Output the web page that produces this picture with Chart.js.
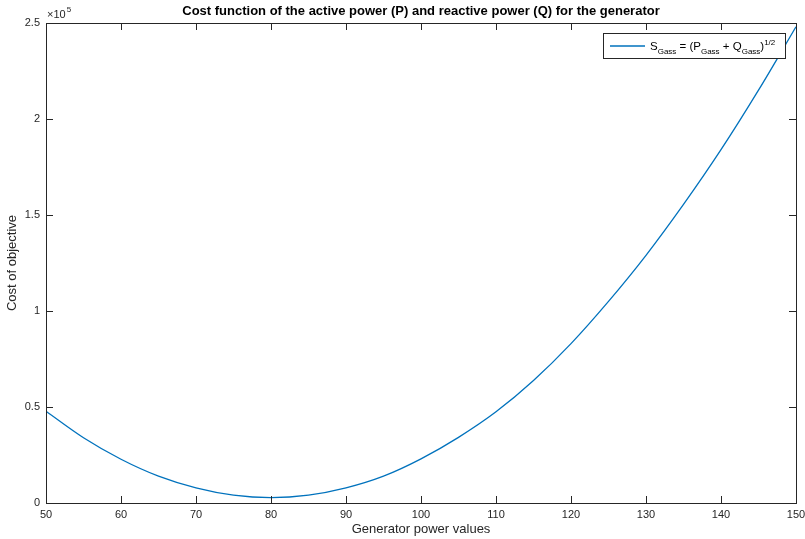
<!DOCTYPE html>
<html>
<head>
<meta charset="utf-8">
<script src="https://cdn.jsdelivr.net/npm/chart.js@4"></script>
<style>
    html, body { margin: 0; padding: 0; background: #fff; }
    #wrap { width: 805px; height: 539px; }
</style>
</head>
<body>
<div id="wrap"><canvas id="myChart" width="805" height="539"></canvas></div>
<script>
// values
const powerValues = [50, 55, 60, 65, 70, 75, 80, 85, 90, 95, 100, 105, 110, 115, 120, 125, 130, 135, 140, 145, 150];
const costValues = [47800, 34000, 22800, 14000, 7900, 4100, 2800, 4100, 7900, 14000, 23000,
                    34200, 47500, 63800, 83000, 105000, 129000, 155500, 184000, 215000, 248000];
const xTicks = { min: 50, max: 150, step: 10 };
const yTicks = { min: 0, max: 250000, step: 50000 };
const yExponent = 5;

const chartTitle = "Cost function of the active power (P) and reactive power (Q) for the generator";
const xLabel = "Generator power values";
const yLabel = "Cost of objective";
// legend label pieces: text, is it sub/sup script
const legendPieces = [["S", ""], ["Gass", "sub"], [" = (P", ""], ["Gass", "sub"], [" + Q", ""],
                      ["Gass", "sub"], [")", ""], ["1/2", "sup"]];

const axisColor = "#262626";
const lineColor = "#0072BD";
const fontFamily = '"Liberation Sans", Arial, Helvetica, sans-serif';

// MATLAB-like box, inward ticks, title, exponent and legend
const matlabAxes = {
    id: "matlabAxes",
    afterDraw(chart) {
        const ctx = chart.ctx;
        const a = chart.chartArea;
        const xs = chart.scales.x;
        const ys = chart.scales.y;
        const tick = 7;
        ctx.save();
        ctx.strokeStyle = axisColor;
        ctx.lineWidth = 1;
        ctx.strokeRect(Math.round(a.left) + 0.5, Math.round(a.top) + 0.5,
                       Math.round(a.width), Math.round(a.height));
        ctx.beginPath();
        xs.ticks.forEach((t) => {
            let px = Math.round(xs.getPixelForValue(t.value)) + 0.5;
            ctx.moveTo(px, a.bottom); ctx.lineTo(px, a.bottom - tick);
            ctx.moveTo(px, a.top); ctx.lineTo(px, a.top + tick);
        });
        ys.ticks.forEach((t) => {
            let py = Math.round(ys.getPixelForValue(t.value)) + 0.5;
            ctx.moveTo(a.left, py); ctx.lineTo(a.left + tick, py);
            ctx.moveTo(a.right, py); ctx.lineTo(a.right - tick, py);
        });
        ctx.stroke();

        // title
        ctx.fillStyle = "#000";
        ctx.font = "bold 13px " + fontFamily;
        ctx.textAlign = "center";
        ctx.textBaseline = "alphabetic";
        ctx.fillText(chartTitle, (a.left + a.right) / 2, a.top - 8);

        // exponent label
        ctx.fillStyle = axisColor;
        ctx.textAlign = "left";
        ctx.font = "11px " + fontFamily;
        ctx.fillText("\u00d710", a.left + 1, a.top - 5);
        let w = ctx.measureText("\u00d710").width;
        ctx.font = "8px " + fontFamily;
        ctx.fillText(String(yExponent), a.left + 2 + w, a.top - 11);

        // legend
        const bx = a.right - 193, by = a.top + 10, bw = 182, bh = 25;
        ctx.fillStyle = "#fff";
        ctx.fillRect(bx, by, bw, bh);
        ctx.strokeStyle = axisColor;
        ctx.strokeRect(bx + 0.5, by + 0.5, bw, bh);
        ctx.strokeStyle = lineColor;
        ctx.lineWidth = 1.3;
        ctx.beginPath();
        ctx.moveTo(bx + 7, by + 13);
        ctx.lineTo(bx + 42, by + 13);
        ctx.stroke();
        let tx = bx + 47;
        const base = by + 17;
        ctx.fillStyle = "#000";
        legendPieces.forEach(([txt, kind]) => {
            if (kind === "sub") {
                ctx.font = "8px " + fontFamily;
                ctx.fillText(txt, tx, base + 3.5);
            } else if (kind === "sup") {
                ctx.font = "8px " + fontFamily;
                ctx.fillText(txt, tx, base - 5);
            } else {
                ctx.font = "11.5px " + fontFamily;
                ctx.fillText(txt, tx, base);
            }
            tx += ctx.measureText(txt).width;
        });
        ctx.restore();
    }
};

const points = powerValues.map((p, i) => ({ x: p, y: costValues[i] }));

new Chart(document.getElementById("myChart"), {
    type: "line",
    data: {
        datasets: [{
            data: points,
            borderColor: lineColor,
            borderWidth: 1.3,
            pointRadius: 0,
            fill: false,
            cubicInterpolationMode: "monotone"
        }]
    },
    options: {
        responsive: false,
        animation: false,
        layout: { padding: { top: 23, right: 9, left: 0, bottom: 0 } },
        plugins: {
            legend: { display: false },
            title: { display: false },
            tooltip: { enabled: false }
        },
        scales: {
            x: {
                type: "linear",
                min: xTicks.min,
                max: xTicks.max,
                grid: { display: false, drawTicks: false },
                border: { display: false },
                ticks: {
                    stepSize: xTicks.step,
                    color: axisColor,
                    padding: 5,
                    maxRotation: 0,
                    font: { family: fontFamily, size: 11 }
                },
                title: {
                    display: true,
                    text: xLabel,
                    color: axisColor,
                    padding: { top: 0, bottom: 2 },
                    font: { family: fontFamily, size: 13 }
                },
                afterFit: (scale) => {
                    scale.height = 36;
                    scale.paddingLeft = 0;
                    scale.paddingRight = 0;
                }
            },
            y: {
                min: yTicks.min,
                max: yTicks.max,
                grid: { display: false, drawTicks: false },
                border: { display: false },
                ticks: {
                    stepSize: yTicks.step,
                    color: axisColor,
                    padding: 6,
                    font: { family: fontFamily, size: 11 },
                    callback: (v) => String(v / Math.pow(10, yExponent))
                },
                title: {
                    display: true,
                    text: yLabel,
                    color: axisColor,
                    padding: { top: 5, bottom: 0 },
                    font: { family: fontFamily, size: 13 }
                },
                afterFit: (scale) => {
                    scale.width = 46;
                    scale.paddingTop = 0;
                    scale.paddingBottom = 0;
                }
            }
        }
    },
    plugins: [matlabAxes]
});
</script>
</body>
</html>
